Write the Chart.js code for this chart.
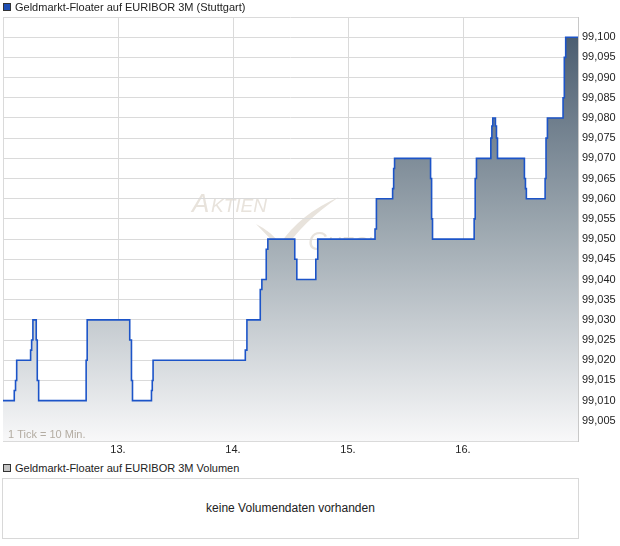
<!DOCTYPE html>
<html>
<head>
<meta charset="utf-8">
<script src="https://cdn.jsdelivr.net/npm/chart.js@4.4.0/dist/chart.umd.min.js"></script>
<style>
body { margin: 0; background: #fff; font-family: "Liberation Sans", Arial, sans-serif; color: #222; }
#wrap { position: relative; width: 620px; height: 546px; }
#kurs { position: absolute; left: 0; top: 0; }
.leg { position: absolute; left: 3px; font-size: 11px; line-height: 12px; white-space: nowrap; }
.leg i { display: inline-block; width: 6px; height: 6px; border: 1px solid #333; margin-right: 4px; vertical-align: 0; }
#volBox { position: absolute; left: 2px; top: 478px; width: 575px; height: 59px; border: 1px solid #d8d8d8;
  font-size: 12px; line-height: 59px; text-align: center; }
</style>
</head>
<body>
<div id="wrap">
  <canvas id="kurs" width="620" height="460"></canvas>
  <div class="leg" style="top:1px"><i style="background:#1f4fb4"></i>Geldmarkt-Floater auf EURIBOR 3M (Stuttgart)</div>
  <div class="leg" style="top:462px"><i style="background:#c4c4c4"></i>Geldmarkt-Floater auf EURIBOR 3M Volumen</div>
  <div id="volBox">keine Volumendaten vorhanden</div>
</div>
<script>
// ===== DATEN =====
const xMin = 12, xMax = 17;
const xTickValues = [13, 14, 15, 16];
const xTickLabels = ['13.', '14.', '15.', '16.'];
const yMin = 99.000, yMax = 99.105, yStep = 0.005;

// Zeitpunkt (Tag + Bruchteil) an dem sich der Kurs ändert
const zeiten = [12.000, 12.098, 12.109, 12.119, 12.240, 12.249, 12.260, 12.289, 12.298, 12.310,
  12.723, 12.732, 13.102, 13.117, 13.126, 13.291, 13.298, 13.305, 14.107, 14.121,
  14.237, 14.251, 14.289, 14.303, 14.537, 14.555, 14.720, 14.737, 15.235, 15.247,
  15.388, 15.397, 15.405, 15.718, 15.727, 15.735, 16.097, 16.106, 16.117, 16.242,
  16.251, 16.259, 16.282, 16.291, 16.300, 16.534, 16.543, 16.551, 16.714, 16.722,
  16.734, 16.870, 16.881, 16.893, 17.000];
const kurse = [99.010, 99.0125, 99.015, 99.020, 99.0225, 99.025, 99.030, 99.025, 99.015, 99.010,
  99.020, 99.030, 99.025, 99.015, 99.010, 99.0125, 99.015, 99.020, 99.0225, 99.030,
  99.0375, 99.040, 99.0475, 99.050, 99.045, 99.040, 99.045, 99.050, 99.0525, 99.060,
  99.0625, 99.0675, 99.070, 99.065, 99.055, 99.050, 99.055, 99.065, 99.070, 99.075,
  99.078, 99.080, 99.078, 99.075, 99.070, 99.065, 99.0625, 99.060, 99.065, 99.075,
  99.080, 99.085, 99.095, 99.100, 99.100];

Chart.defaults.font.family = '"Liberation Sans", Arial, sans-serif';
Chart.defaults.font.size = 11;
Chart.defaults.color = '#222';

// ===== PLUGINS =====
// Logo im Hintergrund (unter Gitter und Fläche)
const wasserzeichen = {
  id: 'wasserzeichen',
  beforeDraw(chart) {
    const c = chart.ctx;
    c.save();
    c.fillStyle = '#e8e3dc';
    c.font = 'italic 26px "Liberation Sans", Arial';
    c.fillText('A', 192, 212);
    c.font = 'italic 19px "Liberation Sans", Arial';
    c.fillText('KTIEN', 211, 212);
    c.font = 'italic 26px "Liberation Sans", Arial';
    c.fillText('C', 308, 250);
    c.font = 'italic 19px "Liberation Sans", Arial';
    c.fillText('HECK', 327, 250);
    c.beginPath();
    c.moveTo(256, 224);
    c.quadraticCurveTo(272, 232, 280, 244);
    c.quadraticCurveTo(300, 214, 339, 197);
    c.quadraticCurveTo(302, 222, 283, 252);
    c.closePath();
    c.fill();
    c.restore();
  }
};

const tickInfo = {
  id: 'tickInfo',
  afterDatasetsDraw(chart) {
    const c = chart.ctx;
    c.save();
    c.fillStyle = '#b3aca2';
    c.font = '11px "Liberation Sans", Arial';
    c.fillText('1 Tick = 10 Min.', chart.chartArea.left + 5, chart.chartArea.bottom - 3);
    c.restore();
  }
};

// ===== GRAFIK KURS =====
new Chart(document.getElementById('kurs').getContext('2d'), {
  type: 'line',
  data: {
    datasets: [{
      data: zeiten.map((t, i) => ({ x: t, y: kurse[i] })),
      stepped: 'before',
      borderColor: '#1c54c8',
      borderWidth: 1.6,
      pointRadius: 0,
      fill: 'start',
      backgroundColor: ctx => {
        const area = ctx.chart.chartArea;
        if (!area) return 'rgba(0,0,0,0)';
        const g = ctx.chart.ctx.createLinearGradient(0, area.top, 0, area.bottom);
        g.addColorStop(0, '#43566a');
        g.addColorStop(0.5, '#9da8b0');
        g.addColorStop(1, '#f8f8f9');
        return g;
      }
    }]
  },
  options: {
    responsive: false,
    animation: false,
    layout: { padding: { left: 3, top: 17, right: 0, bottom: 0 } },
    plugins: { legend: { display: false }, tooltip: { enabled: false } },
    scales: {
      x: {
        type: 'linear',
        min: xMin,
        max: xMax,
        afterBuildTicks: s => { s.ticks = [xMin, ...xTickValues, xMax].map(v => ({ value: v })); },
        afterFit: s => { s.height = 19; },
        ticks: {
          autoSkip: false, maxRotation: 0, padding: 2,
          callback: v => { const i = xTickValues.indexOf(v); return i < 0 ? '' : xTickLabels[i]; }
        },
        grid: { color: '#dadada', drawTicks: false },
        border: { color: '#dadada' }
      },
      y: {
        position: 'right',
        min: yMin,
        max: yMax,
        afterBuildTicks: s => {
          const t = [];
          for (let i = 0; i <= Math.round((yMax - yMin) / yStep); i++) t.push({ value: +(yMin + i * yStep).toFixed(3) });
          s.ticks = t;
        },
        afterFit: s => { s.width = 42; },
        ticks: {
          padding: 4,
          callback: (v, i, arr) => (i === 0 || i === arr.length - 1) ? '' : v.toFixed(3).replace('.', ',')
        },
        grid: { color: '#dadada', drawTicks: false },
        border: { color: '#c8c8c8' }
      }
    }
  },
  plugins: [wasserzeichen, tickInfo]
});
</script>
</body>
</html>
